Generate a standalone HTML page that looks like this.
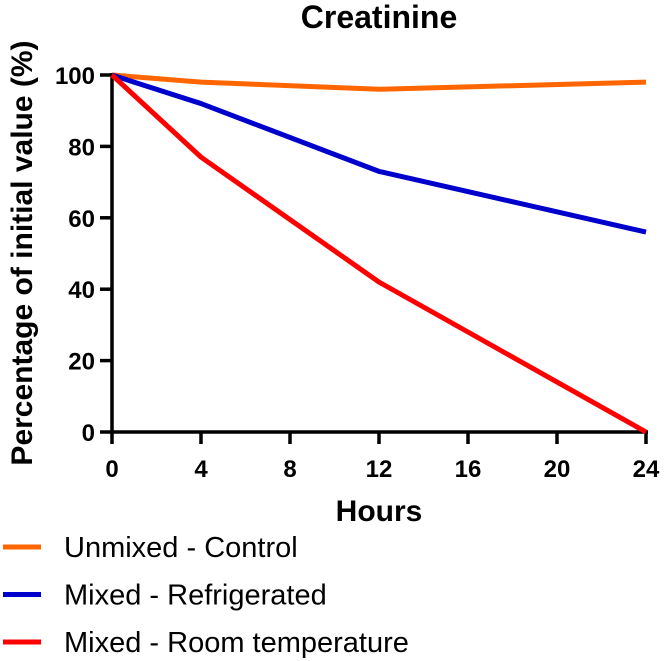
<!DOCTYPE html>
<html><head><meta charset="utf-8"><style>
body{margin:0;background:#fff}
svg{display:block;font-family:"Liberation Sans",Arial,sans-serif}
</style></head><body>
<svg id="c" width="664" height="661"></svg>
<script>
const hours=[0,4,12,24];
const control=[100,98,96,98];
const refrigerated=[100,92,73,56];
const roomTemp=[100,77,42,0];
const xTicks=[0,4,8,12,16,20,24];
const yTicks=[0,20,40,60,80,100];
const seriesNames=["Unmixed - Control","Mixed - Refrigerated","Mixed - Room temperature"];
const seriesColors=["#ff6600","#0000cc","#ff0000"];
const NS="http://www.w3.org/2000/svg";
const svg=document.getElementById('c');
const X0=112,X1=646,Y0=432,Y1=75;
const xs=v=>X0+(v/24)*(X1-X0);
const ys=v=>Y0-(v/100)*(Y0-Y1);
function mk(t,a,p){const e=document.createElementNS(NS,t);for(const k in a)e.setAttribute(k,a[k]);(p||svg).appendChild(e);return e;}
let t=mk('text',{x:379,y:28,'text-anchor':'middle','font-size':32,'font-weight':'bold'});t.textContent='Creatinine';


let ax=mk('path',{d:`M${X0} ${Y1-2}V${Y0}H${X1+2}`,stroke:'#000','stroke-width':3.5,fill:'none'});


xTicks.forEach(v=>{
 const l=mk('line',{x1:xs(v),x2:xs(v),y1:Y0,y2:Y0+12,stroke:'#000','stroke-width':3.5});
 
 
 const tx=mk('text',{x:xs(v),y:477,'text-anchor':'middle','font-size':24,'font-weight':'bold'});tx.textContent=v;
 
 
});
yTicks.forEach(v=>{
 const l=mk('line',{x1:X0-12,x2:X0,y1:ys(v),y2:ys(v),stroke:'#000','stroke-width':3.5});
 
 
 const tx=mk('text',{x:X0-17,y:ys(v)+9,'text-anchor':'end','font-size':24,'font-weight':'bold'});tx.textContent=v;
 
 
});
t=mk('text',{x:379,y:521,'text-anchor':'middle','font-size':30,'font-weight':'bold'});t.textContent='Hours';


t=mk('text',{x:0,y:0,transform:'translate(32,253) rotate(-90)','text-anchor':'middle','font-size':30,'font-weight':'bold'});t.textContent='Percentage of initial value (%)';


[control,refrigerated,roomTemp].forEach((s,i)=>{
 const p=mk('polyline',{points:s.map((v,j)=>xs(hours[j])+','+ys(v)).join(' '),fill:'none',stroke:seriesColors[i],'stroke-width':5,'stroke-linejoin':'round'});
 
 
 const ly=547+i*47.5;
 const ll=mk('line',{x1:3,x2:41,y1:ly,y2:ly,stroke:seriesColors[i],'stroke-width':5});
 
 
 const lt=mk('text',{x:64,y:ly+10,'font-size':29});lt.textContent=seriesNames[i];
 
 
});
</script>
</body></html>
